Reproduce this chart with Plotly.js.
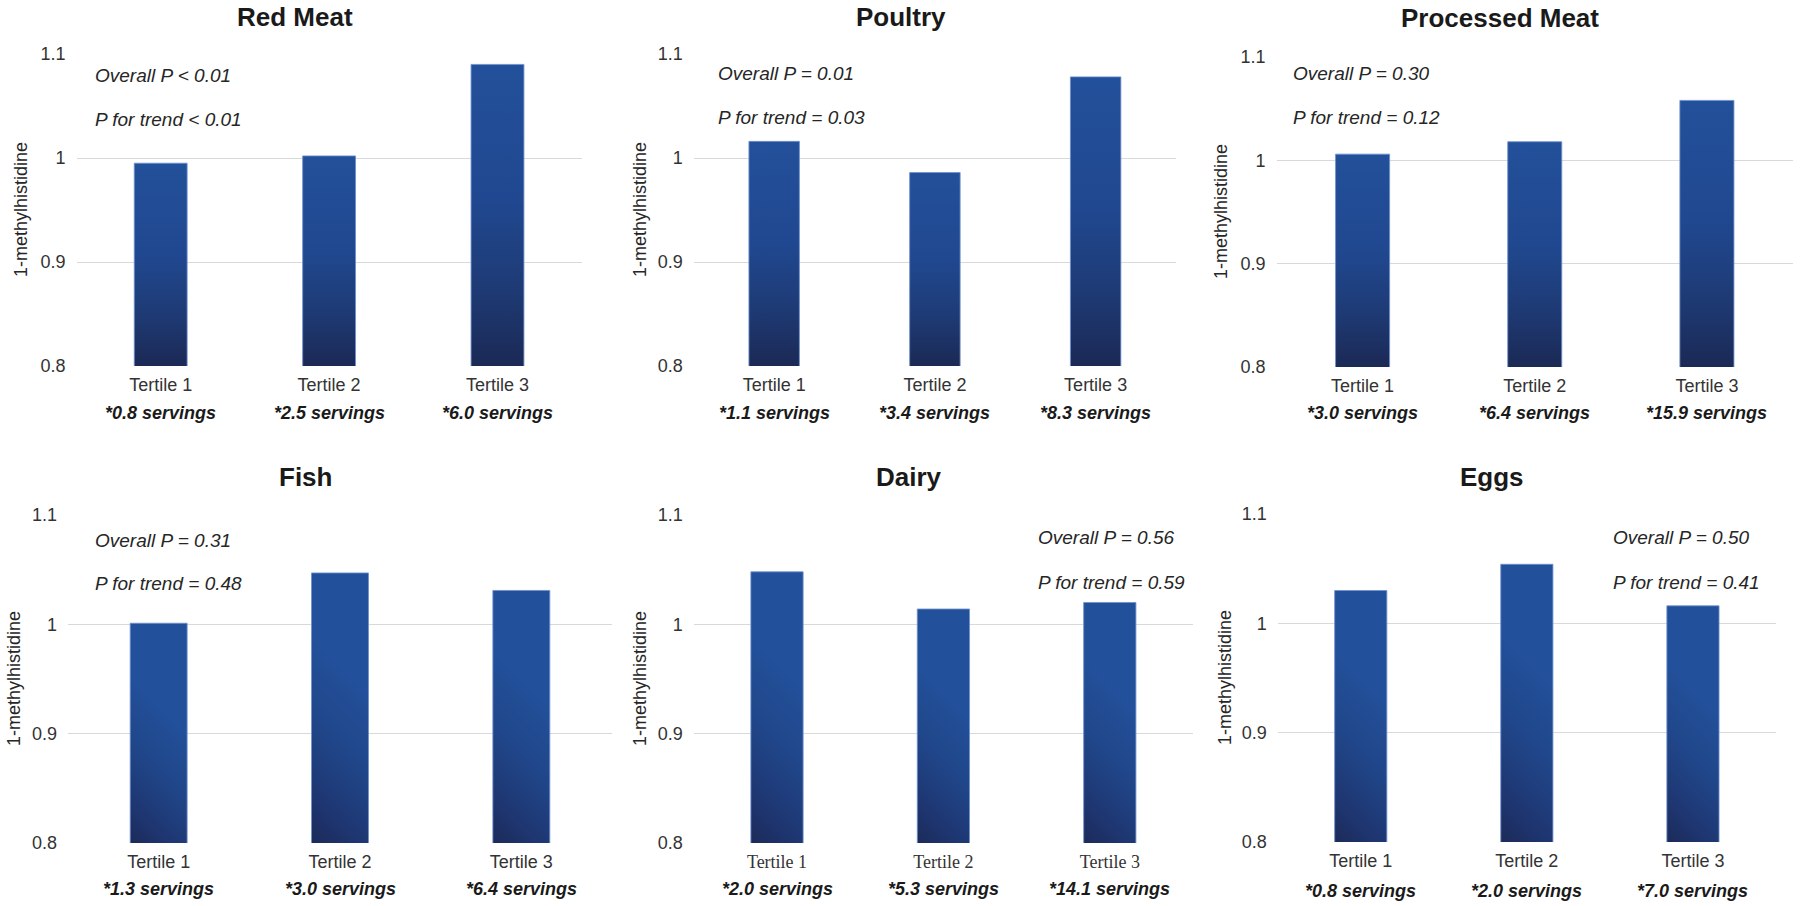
<!DOCTYPE html>
<html>
<head>
<meta charset="utf-8">
<script src="https://cdn.plot.ly/plotly-3.0.1.min.js"></script>
<style>
  html, body { margin: 0; padding: 0; background: #ffffff; }
  #chart { width: 1800px; height: 906px; }
</style>
</head>
<body>
<div id="chart"></div>
<script>
// ---------------- DATA ----------------
const categories = ['Tertile 1', 'Tertile 2', 'Tertile 3'];
const panelTitles = ['Red Meat', 'Poultry', 'Processed Meat', 'Fish', 'Dairy', 'Eggs'];

const redMeat       = [0.995, 1.002, 1.090];
const poultry       = [1.016, 0.986, 1.078];
const processedMeat = [1.006, 1.018, 1.058];
const fish          = [1.001, 1.047, 1.031];
const dairy         = [1.048, 1.014, 1.020];
const eggs          = [1.030, 1.054, 1.016];

const servingsRedMeat       = ['*0.8 servings', '*2.5 servings', '*6.0 servings'];
const servingsPoultry       = ['*1.1 servings', '*3.4 servings', '*8.3 servings'];
const servingsProcessedMeat = ['*3.0 servings', '*6.4 servings', '*15.9 servings'];
const servingsFish          = ['*1.3 servings', '*3.0 servings', '*6.4 servings'];
const servingsDairy         = ['*2.0 servings', '*5.3 servings', '*14.1 servings'];
const servingsEggs          = ['*0.8 servings', '*2.0 servings', '*7.0 servings'];

const overallP = ['Overall P &lt; 0.01', 'Overall P = 0.01', 'Overall P = 0.30',
                  'Overall P = 0.31', 'Overall P = 0.56', 'Overall P = 0.50'];
const trendP   = ['P for trend &lt; 0.01', 'P for trend = 0.03', 'P for trend = 0.12',
                  'P for trend = 0.48', 'P for trend = 0.59', 'P for trend = 0.41'];

const yTitle = '1-methylhistidine';
const yRange = [0.8, 1.1];
const yTickVals = [0.8, 0.9, 1.0, 1.1];
const yTickText = ['0.8', '0.9', '1', '1.1'];

const seriesValues = [redMeat, poultry, processedMeat, fish, dairy, eggs];
const seriesServings = [servingsRedMeat, servingsPoultry, servingsProcessedMeat,
                        servingsFish, servingsDairy, servingsEggs];

// ---------------- LAYOUT (pixel geometry) ----------------
const W = 1800, H = 906;
const px = v => v / W;
const py = v => 1 - v / H;

const geom = [
  { x0: 76.5,  x1: 581.7, yTop: 54,  yBot: 366, titleX: 295,  titleY: 17,  yTitleX: 21,   annX: 93,    annY: [76, 119],  servY: 413 },
  { x0: 693.8, x1: 1176,  yTop: 54,  yBot: 366, titleX: 901,  titleY: 17,  yTitleX: 640,  annX: 716,   annY: [74, 117],  servY: 413 },
  { x0: 1276.5,x1: 1793,  yTop: 57,  yBot: 367, titleX: 1500, titleY: 18,  yTitleX: 1221, annX: 1291,  annY: [74, 117],  servY: 413 },
  { x0: 68,    x1: 612,   yTop: 515, yBot: 843, titleX: 305,  titleY: 477, yTitleX: 14,   annX: 92.5,  annY: [540, 583], servY: 889 },
  { x0: 693.8, x1: 1193,  yTop: 515, yBot: 843, titleX: 909,  titleY: 477, yTitleX: 640,  annX: 1036,  annY: [537, 582], servY: 889, serifTicks: true },
  { x0: 1277.7,x1: 1776,  yTop: 514, yBot: 842, titleX: 1492, titleY: 477, yTitleX: 1225, annX: 1611,  annY: [537, 582], servY: 891 }
];

const SANS = 'Arial, "Liberation Sans", sans-serif';
const SERIF = '"Times New Roman", "Liberation Serif", serif';
const gridColor = '#d9d9d9';

const data = [];
const layout = {
  width: W, height: H,
  margin: { l: 0, r: 0, t: 0, b: 0 },
  paper_bgcolor: '#ffffff',
  plot_bgcolor: '#ffffff',
  showlegend: false,
  bargap: 0.686,
  font: { family: SANS, size: 18, color: '#333333' },
  annotations: []
};

seriesValues.forEach((vals, i) => {
  const n = i === 0 ? '' : String(i + 1);
  const g = geom[i];
  data.push({
    type: 'bar',
    x: categories,
    y: vals,
    xaxis: 'x' + n,
    yaxis: 'y' + n,
    marker: { color: '#214b94', line: { color: 'rgba(110,145,205,0.85)', width: 1 } },
    hoverinfo: 'x+y'
  });
  layout['xaxis' + n] = {
    domain: [px(g.x0), px(g.x1)],
    anchor: 'y' + n,
    type: 'category',
    showgrid: false,
    zeroline: false,
    showline: false,
    ticks: '',
    ticklabelstandoff: 6,
    tickfont: { family: g.serifTicks ? SERIF : SANS, size: 18, color: '#333333' },
    fixedrange: true
  };
  layout['yaxis' + n] = {
    domain: [py(g.yBot), py(g.yTop)],
    anchor: 'x' + n,
    range: yRange,
    tickmode: 'array',
    tickvals: yTickVals,
    ticktext: yTickText,
    showgrid: true,
    gridcolor: gridColor,
    gridwidth: 1,
    zeroline: false,
    showline: false,
    ticks: '',
    ticklabelstandoff: 10,
    tickfont: { family: SANS, size: 18, color: '#333333' },
    fixedrange: true
  };
  // Panel title
  layout.annotations.push({
    text: '<b>' + panelTitles[i] + '</b>',
    xref: 'paper', yref: 'paper',
    x: px(g.titleX), y: py(g.titleY),
    xanchor: 'center', yanchor: 'middle',
    showarrow: false,
    font: { family: SANS, size: 26, color: '#1a1a1a' }
  });
  // Y axis title
  layout.annotations.push({
    text: yTitle,
    xref: 'paper', yref: 'y' + n + ' domain',
    x: px(g.yTitleX), y: 0.5,
    xanchor: 'center', yanchor: 'middle',
    textangle: -90,
    showarrow: false,
    font: { family: SANS, size: 18, color: '#262626' }
  });
  // P-value texts
  [overallP[i], trendP[i]].forEach((t, k) => {
    layout.annotations.push({
      text: '<i>' + t + '</i>',
      xref: 'paper', yref: 'paper',
      x: px(g.annX), y: py(g.annY[k]),
      xanchor: 'left', yanchor: 'middle',
      showarrow: false,
      font: { family: SANS, size: 19, color: '#262626' }
    });
  });
  // Servings row under tick labels
  seriesServings[i].forEach((s, k) => {
    layout.annotations.push({
      text: '<b><i>' + s + '</i></b>',
      xref: 'x' + n, yref: 'paper',
      x: k, y: py(g.servY),
      xanchor: 'center', yanchor: 'middle',
      showarrow: false,
      font: { family: SANS, size: 18, color: '#1a1a1a' }
    });
  });
});

// ---------------- GRADIENT FILLS ----------------
function applyGradients(gd) {
  const fl = gd._fullLayout;
  const ns = 'http://www.w3.org/2000/svg';
  const svg = gd.querySelector('svg.main-svg');
  let defs = svg.querySelector('defs');
  if (!defs) { defs = document.createElementNS(ns, 'defs'); svg.insertBefore(defs, svg.firstChild); }
  let k = 0;
  gd.querySelectorAll('.cartesianlayer .subplot').forEach(sp => {
    const id = Array.from(sp.classList).find(c => /^x\d*y\d*$/.test(c));
    if (!id) return;
    const m = id.match(/^x(\d*)y(\d*)$/);
    const n = m[2];
    const ya = fl['yaxis' + n];
    const Hs = ya._length;
    const idx = n === '' ? 1 : parseInt(n, 10);
    const diagonal = idx >= 4;
    sp.querySelectorAll('.barlayer .point path').forEach(p => {
      const b = p.getBBox();
      const top = Math.max(b.y, 0);
      const bot = Math.min(b.y + b.height, Hs);
      const left = b.x;
      const gid = 'barGrad' + (k++);
      const lg = document.createElementNS(ns, 'linearGradient');
      lg.setAttribute('id', gid);
      lg.setAttribute('gradientUnits', 'userSpaceOnUse');
      let stops;
      if (!diagonal) {
        lg.setAttribute('x1', left); lg.setAttribute('y1', top);
        lg.setAttribute('x2', left); lg.setAttribute('y2', bot);
        stops = [[0, '#23509a'], [0.45, '#204890'], [0.75, '#1e3a74'], [1, '#1b2955']];
      } else {
        const d = (bot - top) * 0.38;
        lg.setAttribute('x1', left); lg.setAttribute('y1', bot);
        lg.setAttribute('x2', left + d); lg.setAttribute('y2', bot - d);
        stops = [[0, '#1c2a58'], [0.22, '#1e3570'], [0.6, '#204689'], [1, '#22509a']];
      }
      stops.forEach(s => {
        const st = document.createElementNS(ns, 'stop');
        st.setAttribute('offset', s[0]);
        st.setAttribute('stop-color', s[1]);
        lg.appendChild(st);
      });
      defs.appendChild(lg);
      p.style.fill = 'url(#' + gid + ')';
      p.style.fillOpacity = 1;
    });
  });
}

const gd = document.getElementById('chart');
Plotly.newPlot(gd, data, layout, { displayModeBar: false, staticPlot: true })
  .then(() => applyGradients(gd));
</script>
</body>
</html>
